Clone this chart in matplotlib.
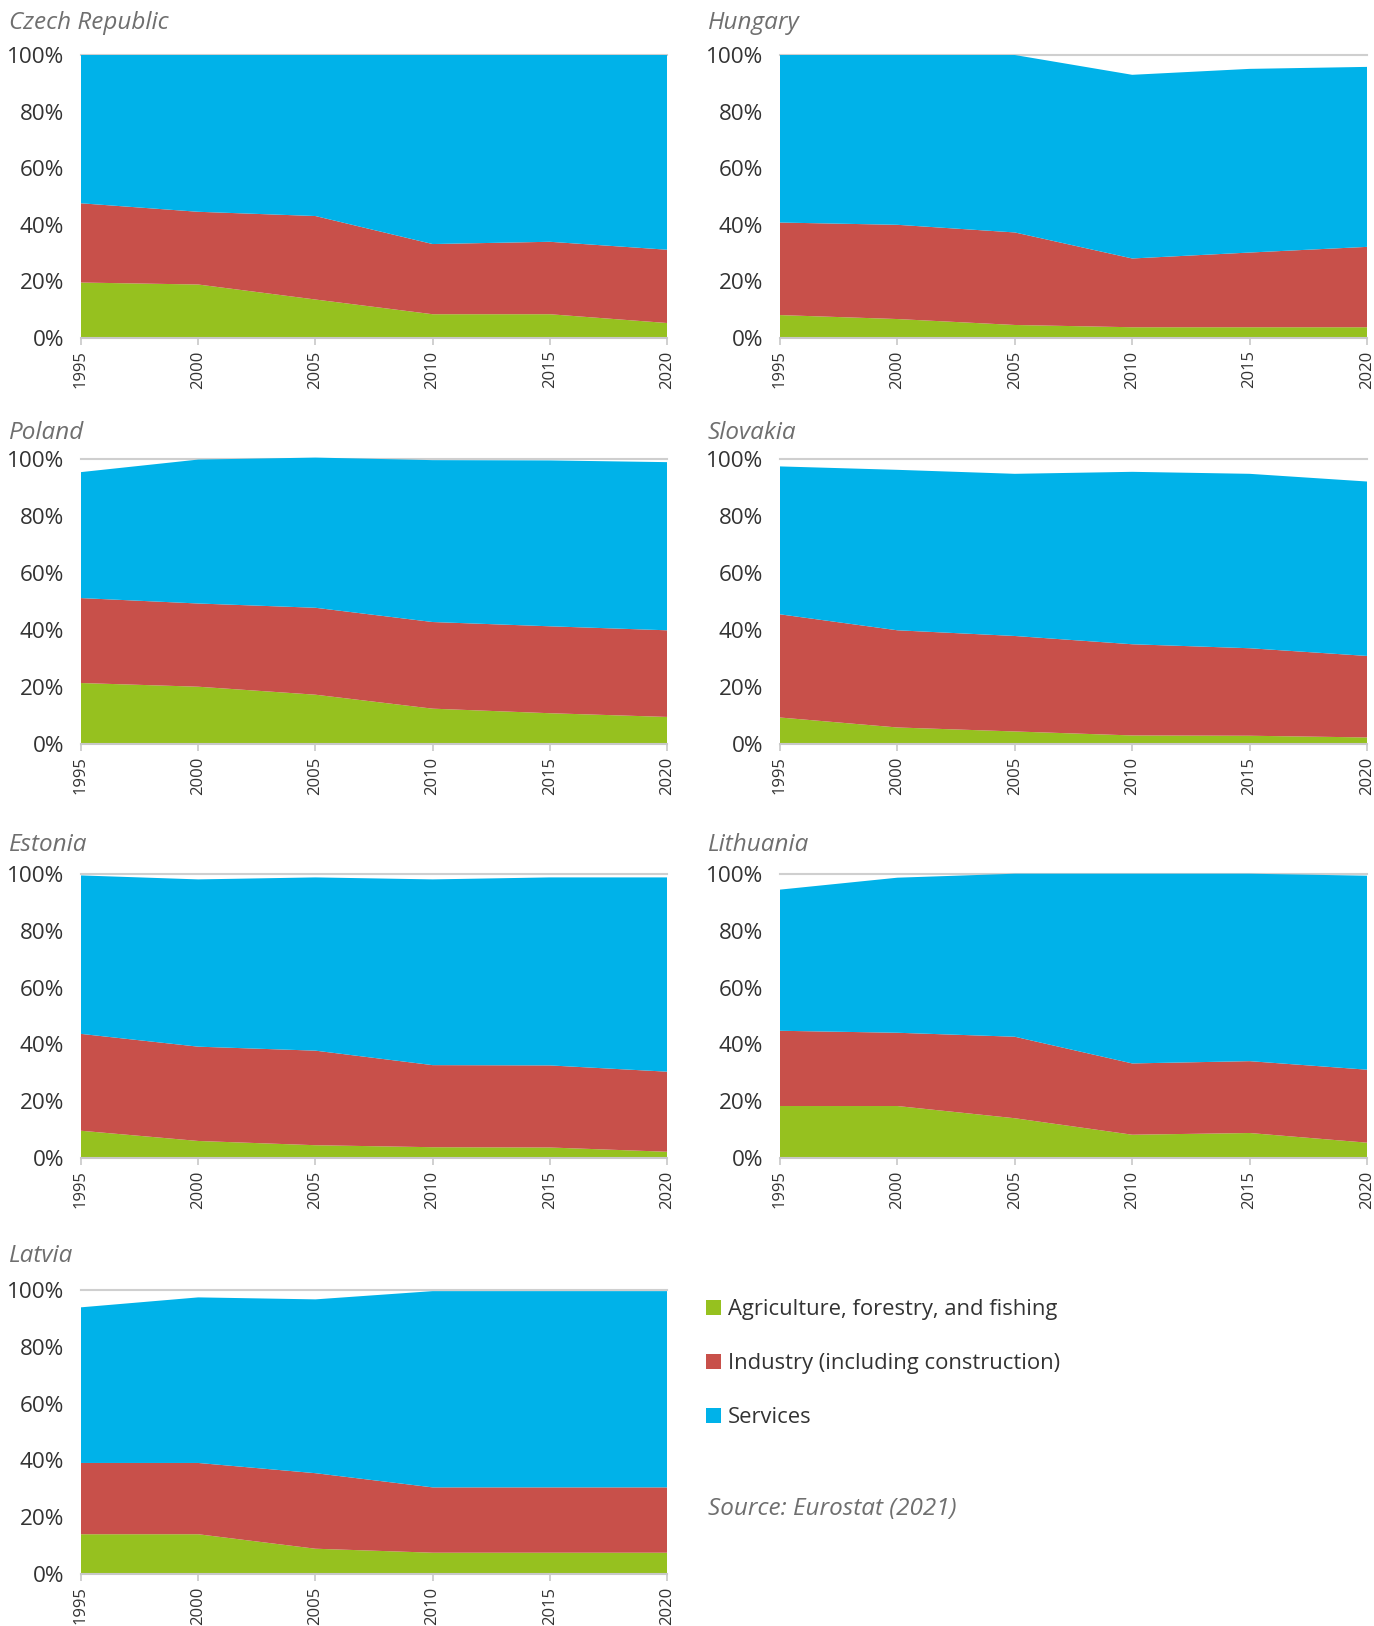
import matplotlib
matplotlib.use("Agg")
import matplotlib.pyplot as plt
from matplotlib import font_manager
from matplotlib.patches import Patch
from matplotlib.ticker import FuncFormatter

years = [1995, 2000, 2005, 2010, 2015, 2020]
sectors = ["Agriculture, forestry, and fishing",
           "Industry (including construction)",
           "Services"]

# Sector shares of employment (%), one list per country and sector
czech_agri = [19.6, 18.9, 13.6, 8.4, 8.4, 5.3]
czech_ind = [28.0, 25.7, 29.5, 24.8, 25.6, 25.9]
czech_serv = [52.4, 55.4, 56.9, 66.8, 66.0, 68.8]

hungary_agri = [8.1, 6.7, 4.6, 3.8, 3.8, 3.8]
hungary_ind = [32.7, 33.3, 32.7, 24.3, 26.4, 28.4]
hungary_serv = [59.2, 60.0, 62.7, 64.9, 64.9, 63.6]

poland_agri = [21.4, 20.1, 17.3, 12.4, 10.8, 9.5]
poland_ind = [29.8, 29.2, 30.5, 30.4, 30.5, 30.4]
poland_serv = [44.2, 50.5, 52.7, 56.8, 58.2, 59.0]

slovakia_agri = [9.3, 5.8, 4.4, 3.0, 2.9, 2.3]
slovakia_ind = [36.2, 34.1, 33.5, 32.0, 30.7, 28.6]
slovakia_serv = [51.9, 56.3, 56.9, 60.5, 61.2, 61.2]

estonia_agri = [9.6, 6.0, 4.5, 3.8, 3.7, 2.2]
estonia_ind = [34.1, 33.2, 33.3, 28.9, 28.9, 28.2]
estonia_serv = [55.8, 58.9, 61.0, 65.4, 66.2, 68.4]

lithuania_agri = [18.3, 18.3, 14.0, 8.2, 8.8, 5.4]
lithuania_ind = [26.5, 25.8, 28.7, 25.1, 25.3, 25.7]
lithuania_serv = [49.7, 54.6, 57.4, 66.8, 66.0, 68.3]

latvia_agri = [14.0, 14.0, 8.9, 7.5, 7.5, 7.5]
latvia_ind = [25.1, 25.1, 26.6, 23.0, 23.0, 23.0]
latvia_serv = [54.8, 58.3, 61.2, 69.1, 69.1, 69.1]

countries = ["Czech Republic", "Hungary", "Poland", "Slovakia",
             "Estonia", "Lithuania", "Latvia"]
country_data = {
    "Czech Republic": (czech_agri, czech_ind, czech_serv),
    "Hungary": (hungary_agri, hungary_ind, hungary_serv),
    "Poland": (poland_agri, poland_ind, poland_serv),
    "Slovakia": (slovakia_agri, slovakia_ind, slovakia_serv),
    "Estonia": (estonia_agri, estonia_ind, estonia_serv),
    "Lithuania": (lithuania_agri, lithuania_ind, lithuania_serv),
    "Latvia": (latvia_agri, latvia_ind, latvia_serv),
}

colors = ["#96C11F", "#C8504A", "#00B2E9"]

available = {f.name for f in font_manager.fontManager.ttflist}
family = "Liberation Sans Narrow" if "Liberation Sans Narrow" in available else "Open Sans"
plt.rcParams["font.family"] = [family, "DejaVu Sans"]

W, H = 1374, 1626
fig = plt.figure(figsize=(W / 100, H / 100), dpi=100)
fig.patch.set_facecolor("white")


def px_axes(x0, y0, x1, y1):
    return fig.add_axes([x0 / W, 1 - y1 / H, (x1 - x0) / W, (y1 - y0) / H])


cols = [(81, 667), (780, 1367)]
rows = [(55, 338), (459, 744), (874, 1158), (1290, 1574)]
title_y = [23, 433, 845, 1256]

for i, name in enumerate(countries):
    r, c = divmod(i, 2)
    x0, x1 = cols[c]
    y0, y1 = rows[r]
    ax = px_axes(x0, y0, x1, y1)
    ax.stackplot(years, *country_data[name], colors=colors, linewidth=0,
                 clip_on=False, zorder=2)
    ax.axhline(100, color="#cfcfcf", lw=1.5, zorder=1, clip_on=False)
    ax.set_xlim(1995, 2020)
    ax.set_ylim(0, 100)
    ax.set_xticks(years)
    ax.set_xticklabels([str(y) for y in years], rotation=90, fontsize=12,
                       color="#333333")
    ax.set_yticks(range(0, 101, 20))
    ax.yaxis.set_major_formatter(FuncFormatter(lambda v, p: f"{int(v)}%"))
    ax.tick_params(axis="y", length=0, pad=12, labelsize=16.2,
                   labelcolor="#333333")
    ax.tick_params(axis="x", length=5, width=1.2, color="#c8c8c8", pad=4)
    for s in ["top", "right", "left"]:
        ax.spines[s].set_visible(False)
    ax.spines["bottom"].set_color("#c8c8c8")
    ax.spines["bottom"].set_linewidth(1.5)
    ax.spines["bottom"].set_zorder(3)
    tx = 9 if c == 0 else 708
    fig.text(tx / W, 1 - title_y[r] / H, name, fontsize=17.5, style="italic",
             color="#6f6f6f", ha="left", va="center")

handles = [Patch(facecolor=col, edgecolor="none") for col in colors]
fig.legend(handles, sectors, loc="upper left",
           bbox_to_anchor=(706 / W, 1 - 1299 / H), frameon=False,
           fontsize=15.8, labelspacing=1.5, handlelength=0.68,
           handleheight=0.68, handletextpad=0.3, borderpad=0,
           borderaxespad=0, labelcolor="#333333")

fig.text(708 / W, 1 - 1509 / H, "Source: Eurostat (2021)", fontsize=17.5,
         style="italic", color="#6f6f6f", ha="left", va="center")

fig.savefig("out.png", dpi=100, facecolor="white")
